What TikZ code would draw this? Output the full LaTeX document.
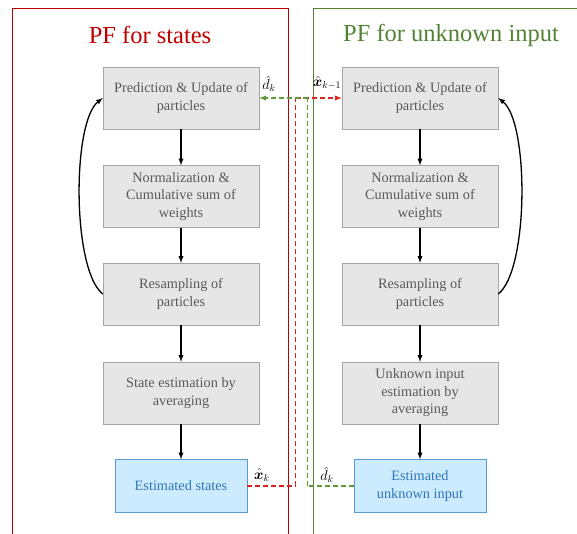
\documentclass[tikz,border=0pt]{standalone}
\usepackage{amssymb,amsmath,bm}
\usepackage{fontspec}
\setmainfont{Liberation Serif}
\usepackage{tikz}
\usetikzlibrary{arrows,shapes}
\definecolor{pfred}{HTML}{C00000}
\definecolor{pfgreen}{HTML}{548235}
\definecolor{linkred}{HTML}{DD2222}
\definecolor{linkgreen}{HTML}{5E9A3C}
\definecolor{boxgray}{HTML}{E7E6E6}
\definecolor{textgray}{HTML}{595959}
\definecolor{estfill}{HTML}{CDEBFF}
\definecolor{estline}{HTML}{5B9BD5}
\definecolor{esttext}{HTML}{2E75B6}
\tikzstyle{block}=[draw=black!35,fill=boxgray,text=textgray,minimum width=156pt,minimum height=62pt,align=center,inner sep=2pt,font=\fontsize{14.3}{17.5}\selectfont]
\tikzstyle{result}=[draw=estline,fill=estfill,text=esttext,minimum width=132pt,minimum height=53pt,align=center,inner sep=2pt,font=\fontsize{14.3}{17.5}\selectfont]
\tikzstyle{title}=[font=\fontsize{24.5}{28}\selectfont]
\tikzstyle{flow} = [draw,line width=1.3pt,-latex]
\tikzstyle{link} = [line width=1.3pt,dash pattern=on 5pt off 3pt]
\tikzstyle{lbl}=[font=\fontsize{14.5}{16}\selectfont,inner sep=0pt]

\begin{document}
\begin{tikzpicture}[x=1pt,y=-1pt]
        \useasboundingbox (0,0) rectangle (577,533);
        \clip (0,0) rectangle (577,533);
        \draw[pfred,line width=1pt] (12,540) -- (12,8) -- (288,8) -- (288,540);
        \draw[pfgreen,line width=1pt] (313,540) -- (313,8) -- (590,8);
        \node[title,text=pfred] (ts) at (150,35) {PF for states};
        \node[title,text=pfgreen] (tu) at (451,35) {PF for unknown input};

        \node[block] (pus) at (181,98) {Prediction \& Update of\\particles};
        \node[block] (ncs) at (181,196.5) {Normalization \&\\Cumulative sum of\\weights};
        \node[block] (rss) at (181,294) {Resampling of\\particles};
        \node[block] (ses) at (181,393) {State estimation by\\averaging};
        \node[result] (es) at (181,486) {Estimated states};
        \draw[flow] (pus) to (ncs);
        \draw[flow] (ncs) to (rss);
        \draw[flow] (rss) to (ses);
        \draw[flow] (ses) to (es);
        \draw[flow] (rss.west) .. controls (72,270) and (72,122) .. (pus.west);

        \node[block] (pui) at (420,98) {Prediction \& Update of\\particles};
        \node[block] (nci) at (420,196.5) {Normalization \&\\Cumulative sum of\\weights};
        \node[block] (rsi) at (420,294) {Resampling of\\particles};
        \node[block] (sei) at (420,393) {Unknown input\\estimation by\\averaging};
        \node[result] (eu) at (420,486) {Estimated\\unknown input};
        \draw[flow] (pui) to (nci);
        \draw[flow] (nci) to (rsi);
        \draw[flow] (rsi) to (sei);
        \draw[flow] (sei) to (eu);
        \draw[flow] (rsi.east) .. controls (529,270) and (529,122) .. (pui.east);

        \coordinate (rb) at (295.5,486);
        \coordinate (rt) at (295.5,98);
        \coordinate (gb) at (307.5,486);
        \coordinate (gt) at (307.5,98);
        \draw[link,color=linkred] (es.east) -- (rb);
        \draw[link,color=linkred] (rb) -- (rt);
        \draw[link,color=linkred,-latex] (rt) -- (pui.west);
        \draw[link,color=linkgreen] (eu.west) -- (gb);
        \draw[link,color=linkgreen] (gb) -- (gt);
        \draw[link,color=linkgreen,-latex] (gt) -- (pus.east);

        \node[lbl] (dt) at (269,84) {$\hat{d}_k$};
        \node[lbl] (xt) at (327,83) {$\hat{\bm{x}}_{k-1}$};
        \node[lbl] (xb) at (262,475) {$\hat{\bm{x}}_k$};
        \node[lbl] (db) at (327,475) {$\hat{d}_k$};
      \end{tikzpicture}
\end{document}
